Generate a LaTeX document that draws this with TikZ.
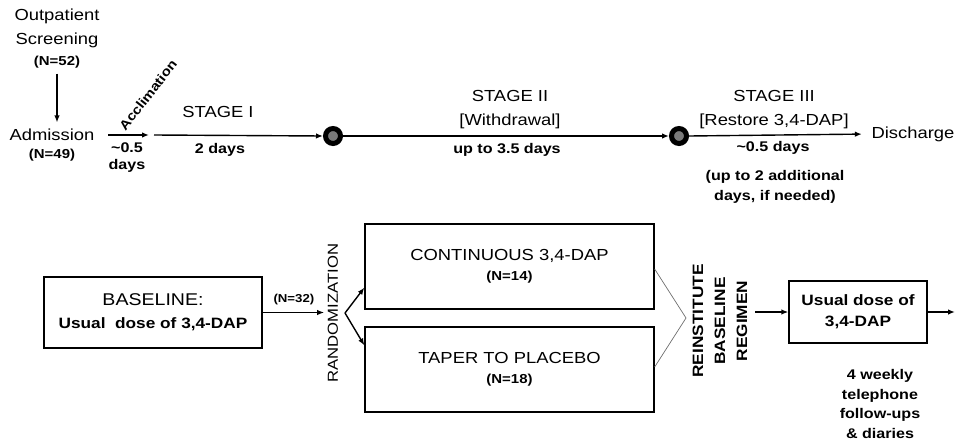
\documentclass[tikz,border=0pt]{standalone}
\usepackage{fontspec}
\setmainfont[FakeStretch=1.15]{Liberation Sans}
\usetikzlibrary{arrows.meta, positioning, calc}
\definecolor{ringgray}{HTML}{7A7A7A}
\definecolor{chevgray}{HTML}{6E6E6E}
\newcommand{\nsize}{\bfseries\fontsize{13}{15}\selectfont}

\begin{document}
\begin{tikzpicture}[x=1pt, y=-1pt, >={Latex[length=7pt, width=5.5pt]}, line width=1.4pt,
  lbl/.style={inner sep=1pt, align=center, font=\fontsize{16}{24}\selectfont},
  dur/.style={inner sep=1pt, align=center, font=\bfseries\fontsize{14}{17}\selectfont},
  nlab/.style={inner sep=1pt, align=center, font=\nsize},
  rlab/.style={inner sep=2pt, align=center, rotate=90},
  box/.style={draw, line width=1.3pt, align=center, inner sep=2pt},
  milestone/.style={circle, draw=black, line width=5pt, fill=ringgray, minimum size=15pt, inner sep=0pt}]

\useasboundingbox (0,0) rectangle (964,442);

% ========== Timeline (top row) ==========
\node[lbl] (outp) at (57,28) {Outpatient\\Screening};
\node[nlab, below=5pt of outp] (n52) {(N=52)};
\node[lbl] (adm) at (52,135) {Admission};
\node[nlab, below=5pt of adm] (n49) {(N=49)};
\draw[->, shorten <=4pt, shorten >=5pt] (n52.south) -- (n52.south |- adm.north);

% Acclimation
\coordinate (accl) at (149,135);
\draw[->, shorten <=12pt] (adm.east) -- (accl);
\node[dur, font=\bfseries\fontsize{13}{15}\selectfont, rotate=52] (accname) at (148,95) {Acclimation};
\node[dur] (accdays) at (127,158) {\textasciitilde0.5\\days};

% Stage I
\coordinate (s1) at (154,135);
\node[milestone] (c1) at (333,136) {};
\draw[->] (s1) -- (c1.west);
\node[lbl] (st1) at (218,112) {STAGE I};
\node[dur] (d1) at (220,150) {2 days};

% Stage II
\node[milestone] (c2) at (679,136) {};
\draw[->] (c1.east) -- (c2.west);
\node[lbl] (st2) at (510,110) {STAGE II\\{[Withdrawal]}};
\node[dur] (d2) at (507,150) {up to 3.5 days};

% Stage III
\node[lbl] (disch) at (913,134) {Discharge};
\draw[->, shorten >=8pt] (c2.east) -- (disch.west);
\node[lbl] (st3) at (774,110) {STAGE III\\{[Restore 3,4-DAP]}};
\node[dur] (d3) at (773,148) {\textasciitilde0.5 days};
\node[dur, font=\bfseries\fontsize{14}{20}\selectfont] (extra) at (775,187) {(up to 2 additional\\days, if needed)};

% ========== Treatment arms (bottom row) ==========
\node[box, minimum width=218pt, minimum height=71pt, font=\bfseries\fontsize{15}{18}\selectfont] (base) at (153,312.5)
  {{\mdseries\fontsize{17}{20}\selectfont BASELINE:}\\[5pt]Usual\ \ dose of 3,4-DAP};
\node[rlab, font=\fontsize{14.5}{17}\selectfont] (rand) at (333,313) {RANDOMIZATION};
\draw[->, shorten >=1pt] (base.east) -- (rand.north |- base.east)
  node[midway, above=6pt, nlab, font=\bfseries\fontsize{11.5}{13}\selectfont] (n32) {(N=32)};

\node[box, minimum width=289pt, minimum height=85pt, font=\fontsize{16}{19}\selectfont] (cont) at (509.5,266.5)
  {CONTINUOUS 3,4-DAP\\[1pt]{\nsize (N=14)}};
\node[box, minimum width=289pt, minimum height=85pt, font=\fontsize{16}{19}\selectfont] (taper) at (509.5,369.5)
  {TAPER TO PLACEBO\\[1pt]{\nsize (N=18)}};

% Split after randomization
\coordinate (split) at (345,313);
\draw[->] (split) -- ($(cont.south west)+(0,-22)$);
\draw[->] (split) -- ($(taper.north west)+(0,19)$);

% Chevron into reinstitution
\coordinate (chev) at (686,318);
\draw[chevgray, line width=0.7pt] ($(cont.east)+(0,2.5)$) -- (chev) -- ($(taper.east)+(0,-2.5)$);
\node[rlab, font=\bfseries\fontsize{15}{22}\selectfont] (reinst) at (720,321) {REINSTITUTE\\BASELINE\\REGIMEN};

% Follow-up
\node[box, minimum width=138pt, minimum height=62pt, font=\bfseries\fontsize{15}{21}\selectfont] (usual) at (858,312)
  {Usual dose of\\3,4-DAP};
\draw[->, shorten <=5pt] (reinst.south |- usual.west) -- (usual.west);
\coordinate (fin) at (955,312);
\draw[->] (usual.east) -- (fin);
\node[dur, font=\bfseries\fontsize{14}{19.5}\selectfont] (follow) at (880,404) {4 weekly\\telephone\\follow-ups\\\& diaries};

\end{tikzpicture}
\end{document}
